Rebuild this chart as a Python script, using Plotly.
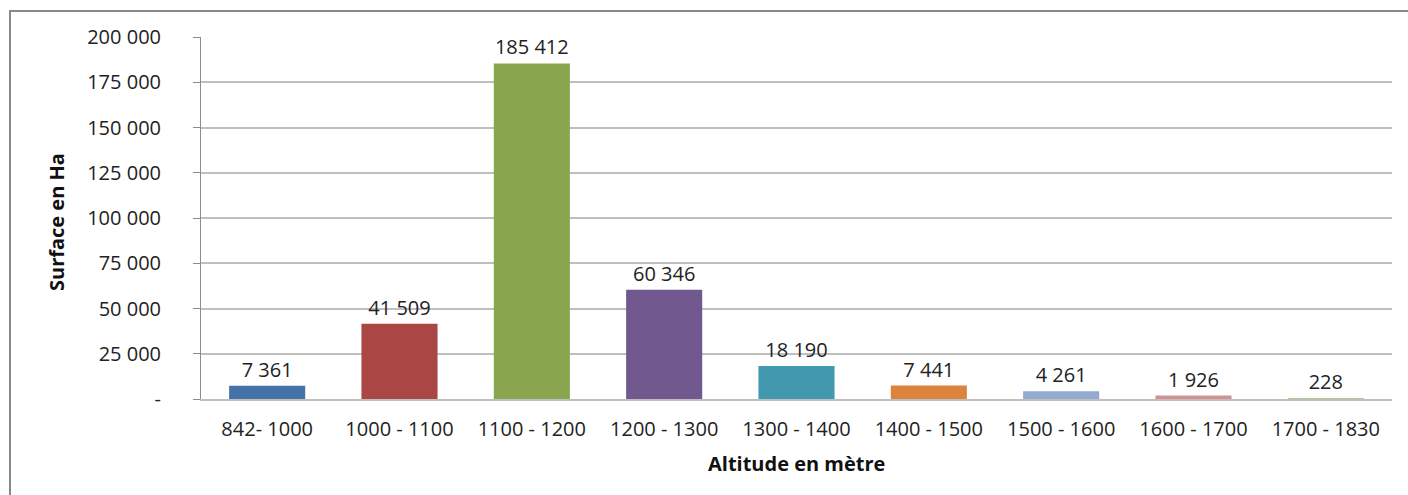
import plotly.graph_objects as go

categories = ["842- 1000", "1000 - 1100", "1100 - 1200", "1200 - 1300", "1300 - 1400",
              "1400 - 1500", "1500 - 1600", "1600 - 1700", "1700 - 1830"]
surface = [7361, 41509, 185412, 60346, 18190, 7441, 4261, 1926, 228]
bar_colors = ["#4572A7", "#AA4643", "#89A54E", "#71588F", "#4198AF",
              "#DB843D", "#93A9CF", "#D19392", "#B5CA92"]
y_tickvals = [0, 25000, 50000, 75000, 100000, 125000, 150000, 175000, 200000]
y_ticktext = ["-", "25 000", "50 000", "75 000", "100 000", "125 000", "150 000", "175 000", "200 000"]
x_title = "Altitude en mètre"
y_title = "Surface en Ha"

labels = [f"{v:,}".replace(",", " ") for v in surface]

font_family = "Open Sans, Liberation Sans, sans-serif"
FS = 20

fig = go.Figure(go.Bar(
    x=categories, y=surface, marker=dict(color=bar_colors, line=dict(width=0)),
    text=labels, textposition="outside", cliponaxis=False,
    textfont=dict(size=FS, color="#222222", family=font_family),
))

fig.update_layout(
    width=1408, height=495,
    margin=dict(l=201, r=16, t=37, b=96),
    paper_bgcolor="white", plot_bgcolor="white",
    bargap=0.425, showlegend=False,
    font=dict(family=font_family, size=FS, color="#222222"),
    xaxis=dict(
        automargin=False,
        showgrid=False, showline=True, linecolor="#BFBFBF", linewidth=2,
        ticks="", tickfont=dict(size=FS, color="#222222"), ticklabelstandoff=11,
    ),
    yaxis=dict(
        automargin=False,
        range=[0, 200000], tickvals=y_tickvals, ticktext=y_ticktext,
        showgrid=True, gridcolor="#BFBFBF", gridwidth=1.5,
        showline=True, linecolor="#8C8C8C", linewidth=1,
        ticks="outside", ticklen=7, tickcolor="#8C8C8C",
        tickfont=dict(size=FS, color="#222222"), zeroline=False,
        ticklabelstandoff=28,
    ),
    annotations=[
        dict(text=f"<b>{x_title}</b>", xref="paper", yref="paper", x=0.5, y=(399 - 463) / 362,
             xanchor="center", yanchor="middle", showarrow=False,
             font=dict(size=FS, color="#111111", family=font_family)),
        dict(text=f"<b>{y_title}</b>", xref="paper", yref="paper", x=(56 - 201) / 1191, y=(399 - 222) / 362,
             xanchor="center", yanchor="middle", showarrow=False, textangle=-90,
             font=dict(size=FS, color="#111111", family=font_family)),
    ],
    shapes=[dict(
        type="rect", xref="paper", yref="paper",
        x0=(10 - 201) / 1191, x1=1.03, y0=-0.3, y1=(399 - 11) / 362,
        line=dict(color="#888888", width=2), fillcolor="rgba(0,0,0,0)", layer="below",
    )],
)

fig.write_html(
    "out.html",
    config={"displayModeBar": False},
    post_script="document.body.style.margin='0';document.body.style.overflow='hidden';",
)
